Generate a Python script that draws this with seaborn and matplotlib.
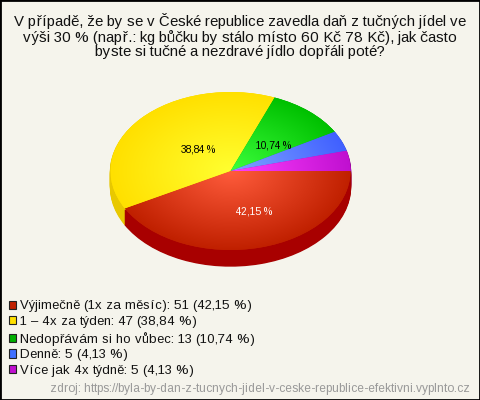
import numpy as np
import matplotlib
matplotlib.use("Agg")
import matplotlib.pyplot as plt
from matplotlib.patches import Patch, Rectangle
import seaborn as sns

# Data
kategorie = ["Výjimečně (1x za měsíc)", "1 – 4x za týden", "Nedopřávám si ho vůbec", "Denně", "Více jak 4x týdně"]
pocty = [51, 47, 13, 5, 5]
procenta = ["42,15 %", "38,84 %", "10,74 %", "4,13 %", "4,13 %"]

titulek = ("V případě, že by se v České republice zavedla daň z tučných jídel ve\n"
           "výši 30 % (např.: kg bůčku by stálo místo 60 Kč 78 Kč), jak často\n"
           "byste si tučné a nezdravé jídlo dopřáli poté?")
zdroj = "zdroj: https://byla-by-dan-z-tucnych-jidel-v-ceske-republice-efektivni.vyplnto.cz"

# Colours: centre of the slice, rim of the slice, side wall, legend square
stred = ["#ff5c3c", "#ffff30", "#3cff3c", "#80a4ff", "#ff40ff"]
okraj = ["#c02000", "#ffe000", "#00c000", "#4060ff", "#c010d0"]
bok = ["#a80000", "#e8c800", "#009000", "#3048c0", "#900090"]
legenda_barvy = ["#c02000", "#ffe000", "#00b000", "#4070ff", "#c010d0"]

POZADI = "#f5f4ec"
W, H = 480, 400

sns.set_theme(style="white")
plt.rcParams["font.family"] = ["Liberation Sans", "DejaVu Sans"]
plt.rcParams["text.hinting"] = "auto"
plt.rcParams["text.hinting_factor"] = 1

fig = plt.figure(figsize=(W / 100, H / 100), dpi=100, facecolor=POZADI)

# Pie axes, in pixels: centre (230, 171), radii 120 x 79, side wall 16
cx, cy, rx, ry, hloubka = 230.5, 171, 120, 79, 16
ax = fig.add_axes([(cx - rx) / W, 1 - (cy + ry + hloubka) / H, 2 * rx / W, (2 * ry + hloubka) / H])
ax.patch.set_alpha(0)

# side wall: the same pie stacked downwards
for d in range(hloubka, 0, -1):
    spodek, _ = ax.pie(pocty, colors=bok, startangle=0, counterclock=False, radius=1, center=(0, -d / ry))
    for w in spodek:
        w.set_edgecolor(w.get_facecolor())
        w.set_linewidth(1)

wedges, _ = ax.pie(pocty, colors=okraj, startangle=0, counterclock=False, radius=1,
                   wedgeprops={"linewidth": 0})

ax.set_aspect("auto")
ax.axis("off")

# radial shading of the top face
xx, yy = np.meshgrid(np.linspace(-1, 1, 300), np.linspace(-1, 1, 300))
vzdalenost = np.sqrt(xx ** 2 + yy ** 2)
for w, s, o in zip(wedges, stred, okraj):
    cmap = sns.blend_palette([s, o], as_cmap=True)
    im = ax.imshow(vzdalenost, extent=(-1, 1, -1, 1), origin="lower", cmap=cmap, vmin=0, vmax=1,
                   aspect="auto", interpolation="bilinear", zorder=3)
    im.set_clip_path(w)
ax.set_xlim(-1, 1)
ax.set_ylim(-1 - hloubka / ry, 1)

# Title
fig.text(240 / W, 1 - 36 / H, titulek, ha="center", va="center", fontsize=10.7,
         color="#111111", linespacing=1.07)

# Percent labels on the slices
popisky = [(254.5, 212, "white"), (198, 149, "black"), (273, 146, "black")]
for (px, py, barva), text in zip(popisky, procenta):
    fig.text(px / W, 1 - py / H, text, ha="center", va="center", fontsize=7.4, color=barva, zorder=5)

# Legend
handles = [Patch(facecolor=b, edgecolor="#222222", linewidth=0.8) for b in legenda_barvy]
texty = [f"{k}: {n} ({p})" for k, n, p in zip(kategorie, pocty, procenta)]
fig.legend(handles, texty, loc="upper left", bbox_to_anchor=(9 / W, 1 - 300.5 / H), frameon=False,
           fontsize=9.6, labelcolor="#111111", handlelength=0.56, handleheight=0.56,
           handletextpad=0.28, labelspacing=0.27, borderpad=0, borderaxespad=0)

# Source
fig.text(470 / W, 1 - 389 / H, zdroj, ha="right", va="center", fontsize=8.8, color="#999999")

# Border
fig.add_artist(Rectangle((0, 0), 1, 1, transform=fig.transFigure, fill=False, edgecolor="black", linewidth=2))

fig.savefig("out.png", dpi=100, facecolor=POZADI)
